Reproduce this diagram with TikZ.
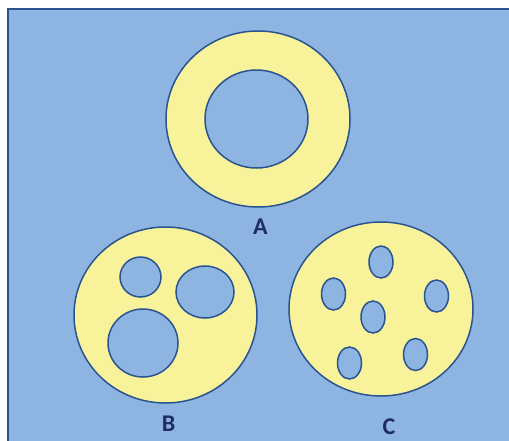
\documentclass[tikz,border=0pt]{standalone}
\usepackage{fontspec}
\setmainfont{Carlito}
\usepackage{tikz}
\definecolor{skyblue}{HTML}{8EB4E1}
\definecolor{paleyellow}{HTML}{F8F39B}
\definecolor{rimblue}{HTML}{2A5490}
\definecolor{inkblue}{HTML}{1F2D63}
\tikzstyle{disc} = [fill=paleyellow, draw=rimblue, line width=1.5pt, even odd rule]
\tikzstyle{tag} = [text=inkblue, font=\fontsize{24}{28}\selectfont\bfseries]

\begin{document}
\begin{tikzpicture}[x=1pt, y=-1pt]
        \useasboundingbox (0,0) rectangle (509,440);
        \clip (0,0) rectangle (509,440);
        \fill[white] (0,0) rectangle (509,440);
        \draw[fill=skyblue, draw=rimblue, line width=1.2pt] (8,9) rectangle (530,460);

        % ring
        \path[disc] (258,119) ellipse [x radius=92, y radius=88]
                    (256.5,119) ellipse [x radius=51.5, y radius=49];
        \node[tag] (labelA) at (260.5,227) {A};

        % disc with three round holes
        \path[disc] (165.5,315) ellipse [x radius=91.5, y radius=88]
                    (140.5,277) ellipse [x radius=20.5, y radius=20]
                    (205,292) ellipse [x radius=29, y radius=26]
                    (143,343) ellipse [x radius=35, y radius=34];
        \node[tag] (labelB) at (168.5,424) {B};

        % disc with six small holes
        \path[disc] (381,309) ellipse [x radius=92, y radius=87]
                    (381,262) ellipse [x radius=12, y radius=16]
                    (333.5,294) ellipse [x radius=12, y radius=16]
                    (436.5,296) ellipse [x radius=12, y radius=16]
                    (373,317) ellipse [x radius=12, y radius=16]
                    (349.5,363) ellipse [x radius=12, y radius=16]
                    (415.5,354.5) ellipse [x radius=12, y radius=16];
        \node[tag] (labelC) at (389,427) {C};

    \end{tikzpicture}
\end{document}
